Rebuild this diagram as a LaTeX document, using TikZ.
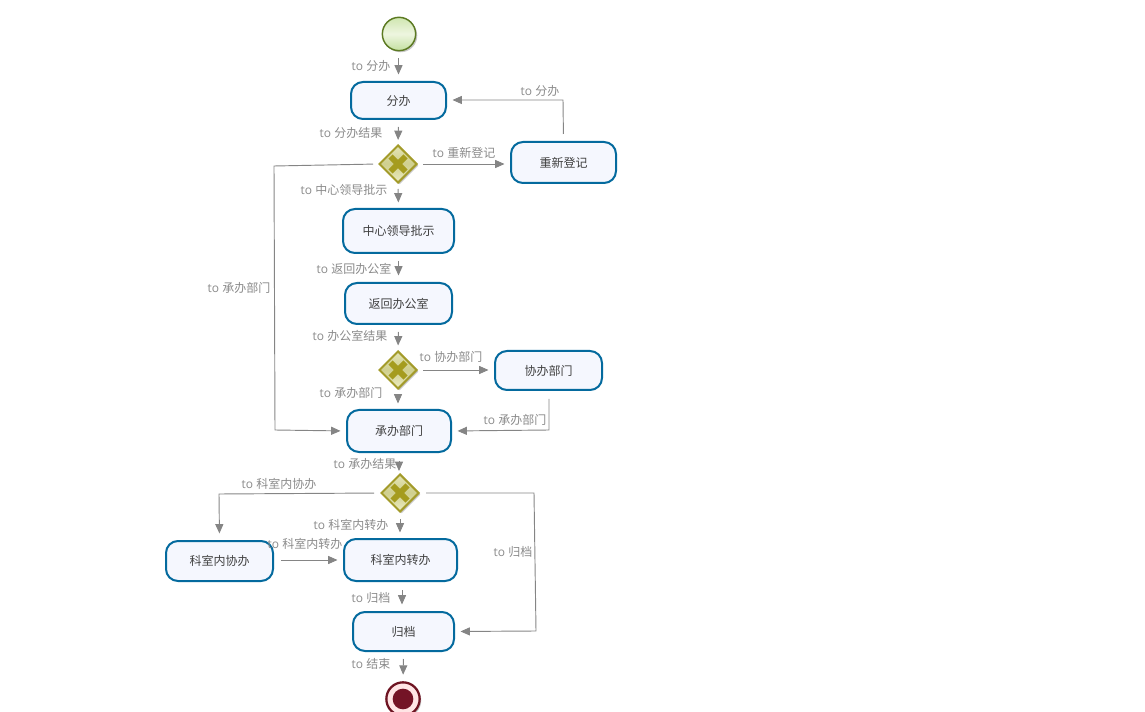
\documentclass[tikz,border=0pt]{standalone}
\usepackage{fontspec}
\setmainfont{Open Sans}
\newfontfamily\cjk{Noto Sans CJK SC}
\usetikzlibrary{arrows.meta,shapes.geometric,shadows}
\definecolor{taskline}{HTML}{046A9E}
\definecolor{taskfill}{HTML}{F5F7FE}
\definecolor{flow}{HTML}{858585}
\definecolor{lab}{HTML}{8A8A8A}
\definecolor{gwline}{HTML}{A39B2A}
\definecolor{gwcross}{HTML}{A59C1E}
\definecolor{gwtop}{HTML}{E4E4B4}
\definecolor{gwmid}{HTML}{CFCF8E}
\definecolor{gwbot}{HTML}{EDEDC4}
\definecolor{stline}{HTML}{5C7A22}
\definecolor{sttop}{HTML}{CFE6B0}
\definecolor{stmid}{HTML}{EEF6E0}
\definecolor{stbot}{HTML}{C4E0A0}
\definecolor{enline}{HTML}{6E1422}
\definecolor{encore}{HTML}{741426}
\tikzset{
  task/.style={draw=taskline,line width=1.5pt,fill=taskfill,rounded corners=9pt,inner sep=0pt,
    minimum width=#1*0.75pt,font=\cjk\fontsize{9pt}{10pt}\selectfont,text=black!75},
  gate/.style={diamond,aspect=1,draw=gwline,line width=1.5pt,inner sep=0pt,minimum size=28.5pt,
    top color=gwtop,bottom color=gwbot,middle color=gwmid,
    drop shadow={shadow xshift=1.2pt,shadow yshift=-1.2pt,fill=black,opacity=.22}},
  crossmark/.style={line width=4.4pt,draw=gwcross},
  startev/.style={circle,draw=stline,line width=1.1pt,inner sep=0pt,minimum size=25pt,
    top color=sttop,bottom color=stbot,middle color=stmid,
    drop shadow={shadow xshift=1.2pt,shadow yshift=-1.2pt,fill=black,opacity=.22}},
  endev/.style={circle,draw=enline,line width=1.7pt,inner sep=0pt,minimum size=25pt,
    fill=red!10!white,
    drop shadow={shadow xshift=1.2pt,shadow yshift=-1.2pt,fill=black,opacity=.22}},
  endcore/.style={circle,fill=encore,inner sep=0pt,minimum size=15.5pt},
  conn/.style={draw=flow,line width=0.7pt,-{Triangle[length=7pt,width=6pt,fill=flow]}},
  lbl/.style={text=lab,inner sep=0pt,font=\fontsize{9pt}{10pt}\selectfont},
}
\newcommand{\tolabel}[1]{to {\cjk #1}}
\begin{document}
\begin{tikzpicture}[x=0.75pt,y=-0.75pt]
\useasboundingbox (0,0) rectangle (1145,712);
% events
\node[startev] (start) at (399,34) {};
\node[endev] (stop) at (403,699) {};
\node[endcore] (stopcore) at (403,699) {};
% tasks
\node[task=95,minimum height=27.75pt] (fenban) at (398.5,100.5) {分办};
\node[task=105,minimum height=30.75pt] (dengji) at (563.5,162.5) {重新登记};
\node[task=111,minimum height=33pt] (lingdao) at (398.5,231) {中心领导批示};
\node[task=107,minimum height=30.75pt] (fanhui) at (398.5,303.5) {返回办公室};
\node[task=107,minimum height=29.25pt] (xieban) at (548.5,370.5) {协办部门};
\node[task=104,minimum height=31.5pt] (chengban) at (399,431) {承办部门};
\node[task=107,minimum height=30pt] (kexie) at (219.5,561) {科室内协办};
\node[task=113,minimum height=31.5pt] (kezhuan) at (400.5,560) {科室内转办};
\node[task=101,minimum height=29.25pt] (guidang) at (403.5,631.5) {归档};
% gateways
\foreach \n/\x/\y in {gwa/398/164,gwb/398/370,gwc/400/493}{
  \node[gate] (\n) at (\x,\y) {};
  \draw[crossmark] ([shift={(-7.5,-7.5)}]\n.center) -- ([shift={(7.5,7.5)}]\n.center);
  \draw[crossmark] ([shift={(-7.5,7.5)}]\n.center) -- ([shift={(7.5,-7.5)}]\n.center);
}
% free ends of the connector corners
\coordinate (cdj) at (563,100);
\coordinate (cga) at (274,166);
\coordinate (cgb) at (275,430);
\coordinate (cxb) at (549,430);
\coordinate (cka) at (219,494);
\coordinate (cgc) at (534,493);
\coordinate (cgd) at (536,631);
% connectors
\draw[conn,shorten <=7*0.75pt,shorten >=6.5*0.75pt] (start.south -| fenban.north) -- (fenban.north);
\draw[conn,shorten <=7*0.75pt,shorten >=4*0.75pt] (fenban.south) -- (gwa.north);
\draw[conn,shorten <=5*0.75pt,shorten >=5.5*0.75pt] (gwa.east) -- (gwa.east -| dengji.west);
\draw[conn,shorten <=7*0.75pt,shorten >=5.5*0.75pt] (dengji.north) -- (cdj) -- (cdj -| fenban.east);
\draw[conn,shorten <=5*0.75pt,shorten >=5.5*0.75pt] (gwa.south) -- (lingdao.north);
\draw[conn,shorten <=5*0.75pt,shorten >=5.5*0.75pt] (gwa.west) -- (cga) -- (cgb) -- (chengban.west);
\draw[conn,shorten <=7*0.75pt,shorten >=6.5*0.75pt] (lingdao.south) -- (fanhui.north);
\draw[conn,shorten <=7*0.75pt,shorten >=4.5*0.75pt] (fanhui.south) -- (gwb.north);
\draw[conn,shorten <=5*0.75pt,shorten >=5.5*0.75pt] (gwb.east) -- (xieban.west |- gwb.east);
\draw[conn,shorten <=5*0.75pt,shorten >=5.5*0.75pt] (gwb.south) -- (gwb.south |- chengban.north);
\draw[conn,shorten <=8*0.75pt,shorten >=5.5*0.75pt] (xieban.south -| cxb) -- (cxb) -- (chengban.east);
\draw[conn,shorten <=8*0.75pt,shorten >=2*0.75pt] (chengban.south) -- (chengban.south |- gwc.north);
\draw[conn,shorten <=6*0.75pt,shorten >=6.5*0.75pt] (gwc.west) -- (cka) -- (kexie.north);
\draw[conn,shorten <=6*0.75pt,shorten >=5.5*0.75pt] (gwc.south) -- (gwc.south |- kezhuan.north);
\draw[conn,shorten <=6*0.75pt,shorten >=5.5*0.75pt] (gwc.east) -- (cgc) -- (cgd) -- (guidang.east);
\draw[conn,shorten <=7*0.75pt,shorten >=5.5*0.75pt] (kexie.east |- kezhuan.west) -- (kezhuan.west);
\draw[conn,shorten <=8*0.75pt,shorten >=6.5*0.75pt] ([xshift=1.5*0.75pt]kezhuan.south) -- ([xshift=-1.5*0.75pt]guidang.north);
\draw[conn,shorten <=7*0.75pt,shorten >=6.5*0.75pt] (guidang.south) -- (stop.north);
% labels
\node[lbl] (l1) at (371,66) {\tolabel{分办}};
\node[lbl] (l2) at (540,91) {\tolabel{分办}};
\node[lbl] (l3) at (351,133) {\tolabel{分办结果}};
\node[lbl] (l4) at (464,153) {\tolabel{重新登记}};
\node[lbl] (l5) at (344,190) {\tolabel{中心领导批示}};
\node[lbl] (l6) at (239,288) {\tolabel{承办部门}};
\node[lbl] (l7) at (354,269) {\tolabel{返回办公室}};
\node[lbl] (l8) at (350,336) {\tolabel{办公室结果}};
\node[lbl] (l9) at (451,357) {\tolabel{协办部门}};
\node[lbl] (l10) at (351,393) {\tolabel{承办部门}};
\node[lbl] (l11) at (515,420) {\tolabel{承办部门}};
\node[lbl] (l12) at (365,464) {\tolabel{承办结果}};
\node[lbl] (l13) at (279,484) {\tolabel{科室内协办}};
\node[lbl] (l14) at (351,525) {\tolabel{科室内转办}};
\node[lbl] (l15) at (305,544) {\tolabel{科室内转办}};
\node[lbl] (l16) at (513,552) {\tolabel{归档}};
\node[lbl] (l17) at (371,598) {\tolabel{归档}};
\node[lbl] (l18) at (371,664) {\tolabel{结束}};
\end{tikzpicture}
\end{document}
